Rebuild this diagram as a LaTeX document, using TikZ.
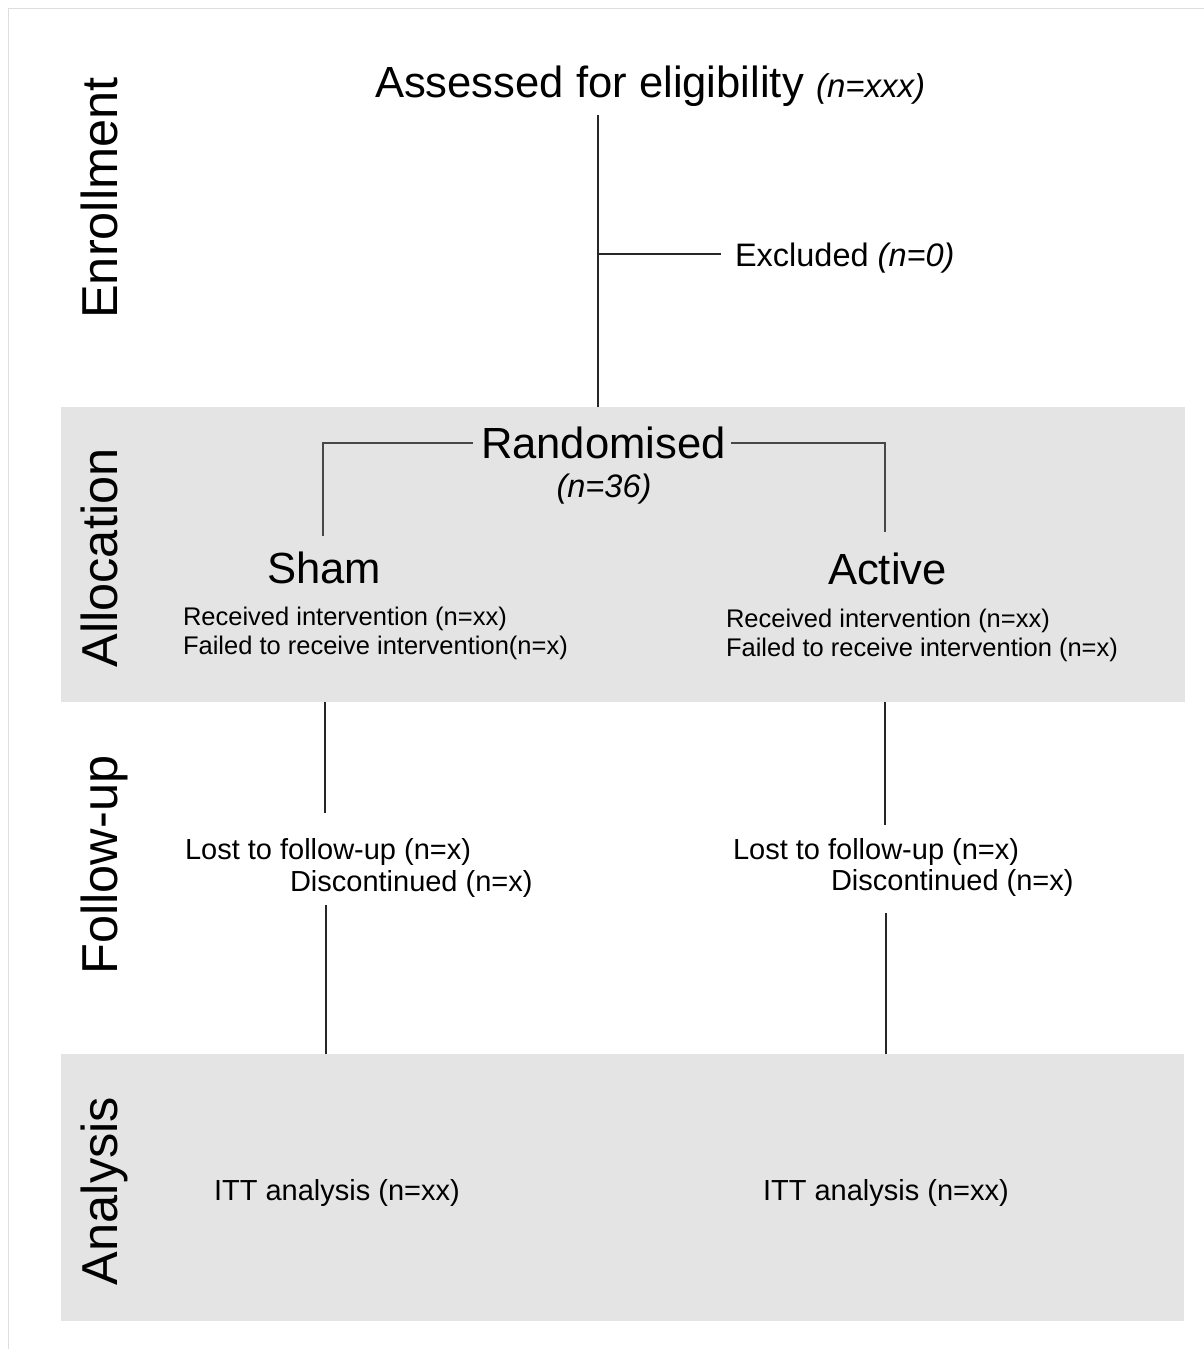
\documentclass[tikz,border=0pt]{standalone}
\usepackage{fontspec}
\setmainfont{Liberation Sans}
\begin{document}
\begin{tikzpicture}[x=1pt,y=-1pt,
  txt/.style={inner sep=0pt,outer sep=0pt,anchor=base west,text=black},
  big/.style={txt,font=\fontsize{43.6}{50}\selectfont},
  mid/.style={txt,font=\fontsize{32.5}{38}\selectfont},
  small/.style={txt,font=\fontsize{25.5}{30}\selectfont},
  fol/.style={txt,font=\fontsize{29}{34}\selectfont},
  section/.style={inner sep=0pt,outer sep=0pt,anchor=base,rotate=90,font=\fontsize{50.5}{60}\selectfont},
  band/.style={fill=black!10.5,draw=none},
  conn/.style={draw=black!85,line width=1.3pt},
  rconn/.style={draw=black!72,line width=1.3pt}]
\useasboundingbox (0,0) rectangle (1204,1349);
\fill[white] (0,0) rectangle (1204,1349);
% outer frame
\draw[black!13,line width=1.5pt] (8.5,1349) -- (8.5,8.5) -- (1204,8.5);
% bands
\path[band] (61,407) rectangle (1185,702);
\path[band] (61,1054) rectangle (1184,1321);
% section labels
\node[section] (enr) at (117,198) {Enrollment};
\node[section] (alloc) at (117,558) {Allocation};
\node[section] (fup) at (117,865) {Follow-up};
\node[section] (ana) at (117,1191) {Analysis};
% texts
\node[big] (assessed) at (375,97) {Assessed for eligibility {\fontsize{33}{38}\selectfont\itshape (n=xxx)}};
\node[mid] (excl) at (735,266) {Excluded \textit{(n=0)}};
\node[big] (rand) at (481,458) {Randomised};
\node[mid,anchor=base,font=\fontsize{32.5}{38}\selectfont\itshape] (randn) at (604,497) {(n=36)};
\node[big] (sham) at (267,583) {Sham};
\node[big] (active) at (828,584) {Active};
\node[small] (srec) at (183,625) {Received intervention (n=xx)};
\node[small] (sfail) at (183,654) {Failed to receive intervention(n=x)};
\node[small] (arec) at (726,627) {Received intervention (n=xx)};
\node[small] (afail) at (726,656) {Failed to receive intervention (n=x)};
\node[fol] (slost) at (185,859) {Lost to follow-up (n=x)};
\node[fol] (sdisc) at (290,891) {Discontinued (n=x)};
\node[fol] (alost) at (733,859) {Lost to follow-up (n=x)};
\node[fol] (adisc) at (831,890) {Discontinued (n=x)};
\node[fol] (sitt) at (214,1200) {ITT analysis (n=xx)};
\node[fol] (aitt) at (763,1200) {ITT analysis (n=xx)};
% connector coordinates
\coordinate (a1) at (598,115);
\coordinate (a2) at (598,407);
\coordinate (e1) at (598,254);
\coordinate (e2) at (721,254);
\coordinate (rl1) at (473,443);
\coordinate (rl2) at (323,443);
\coordinate (rl3) at (323,536);
\coordinate (rr1) at (731,443);
\coordinate (rr2) at (885,443);
\coordinate (rr3) at (885,532);
\coordinate (s1) at (325,702);
\coordinate (s2) at (325,813);
\coordinate (s3) at (326,905);
\coordinate (s4) at (326,1054);
\coordinate (t1) at (885,702);
\coordinate (t2) at (885,825);
\coordinate (t3) at (886,913);
\coordinate (t4) at (886,1054);
% connectors
\draw[conn] (a1) -- (a2);
\draw[conn] (e1) -- (e2);
\draw[rconn] (rl1) -- (rl2) -- (rl3);
\draw[rconn] (rr1) -- (rr2) -- (rr3);
\draw[conn] (s1) -- (s2);
\draw[conn] (s3) -- (s4);
\draw[conn] (t1) -- (t2);
\draw[conn] (t3) -- (t4);
\end{tikzpicture}
\end{document}
